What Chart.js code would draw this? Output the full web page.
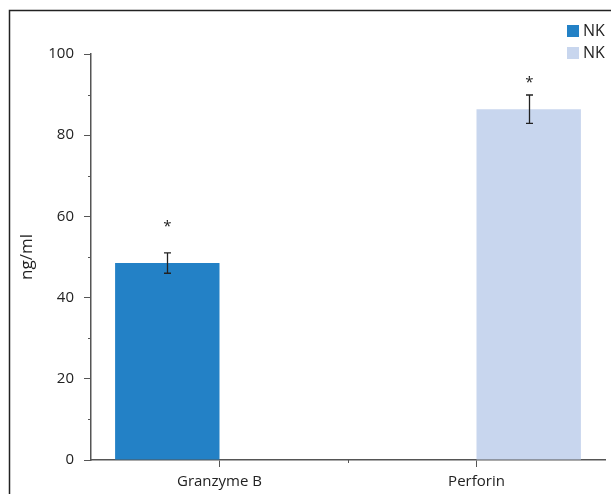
<!DOCTYPE html>
<html>
<head>
<meta charset="utf-8">
<script src="https://cdn.jsdelivr.net/npm/chart.js@4.4.1/dist/chart.umd.min.js"></script>
<style>
    html, body { margin: 0; padding: 0; background: #fff; }
    #chartBox { position: relative; width: 611px; height: 494px; }
</style>
</head>
<body>
<div id="chartBox"><canvas id="barChart" width="611" height="494"></canvas></div>
<script>
// --- 데이터 ---
const categories = ["Granzyme B", "Perforin"];
const seriesLabels = ["NK", "NK"];
const seriesColors = ["#2381c6", "#c8d6ee"];
const granzymeValues = [48.5, null];
const perforinValues = [null, 86.4];
const granzymeErrors = [2.5, null];
const perforinErrors = [null, 3.5];
const starValues = [58.5, 94];   // 별표(*) 위치 (y값)
const yTicks = [0, 20, 40, 60, 80, 100];

const FONT = "'Open Sans', 'Noto Sans', sans-serif";
const TEXT_COLOR = "#222";
const AXIS_COLOR = "#555";

// 바깥 테두리 (위/왼쪽 선)
const framePlugin = {
    id: "frame",
    beforeDraw(chart) {
        const ctx = chart.ctx;
        ctx.save();
        ctx.strokeStyle = "#222";
        ctx.lineWidth = 1.5;
        ctx.beginPath();
        ctx.moveTo(9.5, chart.height);
        ctx.lineTo(9.5, 10.5);
        ctx.lineTo(chart.width, 10.5);
        ctx.stroke();
        ctx.restore();
    }
};

// 보조 눈금 + 에러바 + 별표 + 범례
const extrasPlugin = {
    id: "extras",
    afterDraw(chart) {
        const ctx = chart.ctx;
        const x = chart.scales.x;
        const y = chart.scales.y;
        ctx.save();
        ctx.strokeStyle = AXIS_COLOR;
        ctx.lineWidth = 1;

        // y축 보조 눈금 (주 눈금 사이 중간)
        for (let i = 0; i < yTicks.length - 1; i++) {
            const py = Math.round(y.getPixelForValue((yTicks[i] + yTicks[i + 1]) / 2)) + 0.5;
            ctx.beginPath();
            ctx.moveTo(x.left - 3, py);
            ctx.lineTo(x.left, py);
            ctx.stroke();
        }
        // x축 보조 눈금 (카테고리 경계)
        for (let i = 0; i < categories.length - 1; i++) {
            const px = Math.round((x.getPixelForValue(i) + x.getPixelForValue(i + 1)) / 2) + 0.5;
            ctx.beginPath();
            ctx.moveTo(px, y.bottom);
            ctx.lineTo(px, y.bottom + 3);
            ctx.stroke();
        }

        // 에러바
        const errorSets = [granzymeErrors, perforinErrors];
        ctx.strokeStyle = "#222";
        ctx.lineWidth = 1.3;
        chart.data.datasets.forEach((ds, di) => {
            const meta = chart.getDatasetMeta(di);
            meta.data.forEach((bar, i) => {
                const v = ds.data[i];
                const e = errorSets[di][i];
                if (v == null || e == null) return;
                const cx = Math.round(bar.x) + 0.5;
                const top = y.getPixelForValue(v + e);
                const bot = y.getPixelForValue(v - e);
                ctx.beginPath();
                ctx.moveTo(cx, top);
                ctx.lineTo(cx, bot);
                ctx.moveTo(cx - 3.5, top);
                ctx.lineTo(cx + 3.5, top);
                ctx.moveTo(cx - 3.5, bot);
                ctx.lineTo(cx + 3.5, bot);
                ctx.stroke();

                // 별표
                ctx.fillStyle = "#222";
                ctx.font = "15px " + FONT;
                ctx.textAlign = "center";
                ctx.textBaseline = "middle";
                ctx.fillText("*", cx, y.getPixelForValue(starValues[i]) + 4);
            });
        });

        // 범례 (오른쪽 위, 세로 배치)
        ctx.font = "16px " + FONT;
        ctx.textAlign = "left";
        ctx.textBaseline = "middle";
        chart.data.datasets.forEach((ds, di) => {
            const ly = 25 + di * 22;
            ctx.fillStyle = ds.backgroundColor;
            ctx.fillRect(567, ly, 12, 12);
            ctx.fillStyle = TEXT_COLOR;
            ctx.fillText(ds.label, 583, ly + 6);
        });
        ctx.restore();
    }
};

const ctx = document.getElementById("barChart").getContext("2d");
new Chart(ctx, {
    type: "bar",
    data: {
        labels: categories,
        datasets: [
            { label: seriesLabels[0], data: granzymeValues, backgroundColor: seriesColors[0] },
            { label: seriesLabels[1], data: perforinValues, backgroundColor: seriesColors[1] }
        ]
    },
    options: {
        responsive: false,
        animation: false,
        devicePixelRatio: 1,
        categoryPercentage: 0.8125,
        barPercentage: 1,
        layout: { padding: { top: 54, right: 6, left: 0, bottom: 0 } },
        plugins: {
            legend: { display: false },
            tooltip: { enabled: false }
        },
        scales: {
            x: {
                grid: { drawOnChartArea: false, offset: false, tickLength: 7, color: AXIS_COLOR, tickColor: AXIS_COLOR },
                border: { color: AXIS_COLOR, width: 1.5 },
                ticks: { color: TEXT_COLOR, font: { family: FONT, size: 15 }, padding: 6, maxRotation: 0 },
                afterFit(scale) { scale.height = 34; }
            },
            y: {
                min: 0,
                max: 100,
                afterBuildTicks(scale) { scale.ticks = yTicks.map(v => ({ value: v })); },
                grid: { drawOnChartArea: false, tickLength: 7, color: AXIS_COLOR, tickColor: AXIS_COLOR },
                border: { color: AXIS_COLOR, width: 1.5 },
                ticks: { color: TEXT_COLOR, font: { family: FONT, size: 15 }, padding: 10 },
                title: {
                    display: true,
                    text: "ng/ml",
                    color: TEXT_COLOR,
                    font: { family: FONT, size: 17 },
                    padding: { top: 17, bottom: 0 }
                },
                afterFit(scale) { scale.width = 91; }
            }
        }
    },
    plugins: [framePlugin, extrasPlugin]
});
</script>
</body>
</html>
